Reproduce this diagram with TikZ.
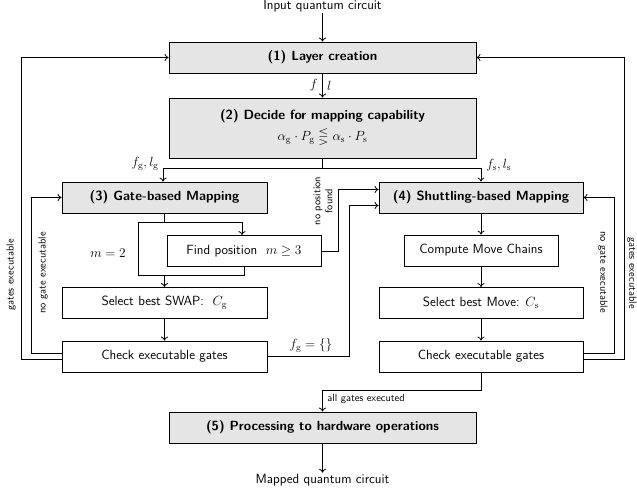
\documentclass[tikz,border=0pt]{standalone}
\usepackage{fix-cm}
\usepackage{amsmath,amssymb}
\usetikzlibrary{arrows.meta}
\newcommand\mainsz{\fontsize{13.3}{16}\selectfont}
\newcommand\labsz{\fontsize{10.4}{12}\selectfont}
\begin{document}
\begin{tikzpicture}[x=1pt,y=-1pt,
  line width=0.8pt,
  >={To[length=4pt,width=7pt]},
  every node/.append style={font=\sffamily\mainsz},
  proc/.style={draw, fill=black!10, minimum height=31pt, inner sep=0pt, font=\sffamily\mainsz\bfseries},
  sub/.style={draw, fill=white, minimum height=31pt, inner sep=0pt, font=\sffamily\mainsz},
  txt/.style={inner sep=1pt},
  lbl/.style={font=\sffamily\labsz, inner sep=1pt, align=center}]
\useasboundingbox (0,0) rectangle (637,492);

% nodes
\node[txt] (in) at (322.5,6) {Input quantum circuit};
\node[proc, minimum width=307pt] (b1) at (322.5,57.5) {(1) Layer creation};
\node[proc, minimum width=307pt, minimum height=60pt, align=center] (b2) at (322.5,128)
  {(2) Decide for mapping capability\\[5pt]\mdseries $\alpha_\mathrm{g}\cdot P_\mathrm{g} \lesseqgtr \alpha_\mathrm{s}\cdot P_\mathrm{s}$};
\node[proc, minimum width=205pt] (b3) at (164.5,197.5) {(3) Gate-based Mapping};
\node[proc, minimum width=204pt] (b4) at (481,197.5) {(4) Shuttling-based Mapping};
\node[sub, minimum width=154pt] (find) at (244,251) {Find position~~$m \geq 3$};
\node[sub, minimum width=154pt] (chain) at (481,250.5) {Compute Move Chains};
\node[sub, minimum width=205pt] (swap) at (164.5,303) {Select best SWAP:~~$C_\mathrm{g}$};
\node[sub, minimum width=204pt] (move) at (481,303) {Select best Move: $C_\mathrm{s}$};
\node[sub, minimum width=205pt] (checkL) at (164.5,356.5) {Check executable gates};
\node[sub, minimum width=204pt] (checkR) at (481,356.5) {Check executable gates};
\node[proc, minimum width=307pt] (b5) at (322.5,427.5) {(5) Processing to hardware operations};
\node[txt] (out) at (322.5,480) {Mapped quantum circuit};

% top
\draw[->] (in.south) -- (b1.north);
\draw[->] (b1.south) -- (b2.north)
  node[pos=0.5, left=1pt] {$f$} node[pos=0.5, right=1pt] {$l$};

% split
\coordinate (sp) at ([yshift=-10pt]b2.south);
\draw (b2.south) -- (sp);
\draw[->] (sp) -| ([xshift=-1.5pt]b3.north);
\draw[->] (sp) -| (b4.north);
\node[anchor=south east, inner sep=1pt] (lg) at (160,172) {$f_\mathrm{g}, l_\mathrm{g}$};
\node[anchor=south west, inner sep=1pt] (ls) at (485,172) {$f_\mathrm{s}, l_\mathrm{s}$};

% gate-based branch
\coordinate (g1) at ([yshift=-9pt]b3.south);
\coordinate (mL) at (138,275);
\coordinate (mR) at (find.south |- mL);
\draw (b3.south) -- (g1);
\draw[->] (g1) -| ([xshift=-2pt]find.north);
\draw (g1) -| (mL) -- (mR) -- (find.south);
\draw[->] (b3.south |- mL) -- (swap.north);
\node (m2) at (108,253) {$m=2$};
\draw[->] (swap.south) -- (checkL.north);

% shuttling branch
\draw[->] (b4.south) -- (chain.north);
\draw[->] (chain.south) -- (move.north);
\draw[->] (move.south) -- (checkR.north);

% find -> shuttling
\coordinate (fp) at ([xshift=17pt]find.east);
\draw[->] (find.east) -- (fp) |- ([yshift=8pt]b4.west);
\node[lbl, rotate=90] (npf) at (323,201) {no position\\found};

% f_g = {} -> shuttling
\coordinate (fe) at (349,356.5);
\draw[->] (checkL.east) -- (fe) |- ([yshift=-8pt]b4.west);
\node[inner sep=1pt] (fge) at (311,345) {$f_\mathrm{g} = \{\}$};

% left loops
\draw[->] ([yshift=-3pt]checkL.west) -- ++(-40,0) |- (b1.west);
\draw[->] ([yshift=3pt]checkL.west) -- ++(-30,0) |- (b3.west);
\node[lbl, rotate=90] (gexL) at (11,275) {gates executable};
\node[lbl, rotate=90] (ngL) at (43,273) {no gate executable};

% right loops
\draw[->] ([yshift=-3pt]checkR.east) -- ++(41,0) |- (b1.east);
\draw[->] ([yshift=3pt]checkR.east) -- ++(31,0) |- (b4.east);
\node[lbl, rotate=-90] (gexR) at (632,273) {gates executable};
\node[lbl, rotate=-90] (ngR) at (603,272) {no gate executable};

% to (5)
\coordinate (ae) at ([yshift=-18pt]checkR.south);
\draw[->] (checkR.south) -- (ae) -| (b5.north);
\node[lbl, anchor=north west] (age) at (326,393) {all gates executed};
\draw[->] (b5.south) -- (out.north);
\end{tikzpicture}
\end{document}
